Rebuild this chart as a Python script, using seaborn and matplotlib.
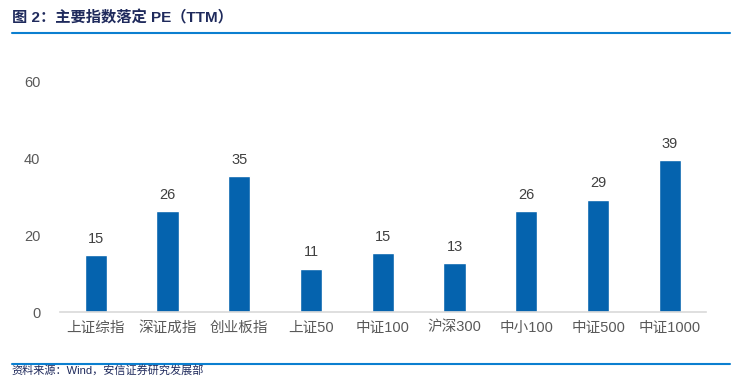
import seaborn as sns
import matplotlib.pyplot as plt
import pandas as pd

categories = ["上证综指", "深证成指", "创业板指", "上证50", "中证100", "沪深300", "中小100", "中证500", "中证1000"]
pe_ttm = [14.8, 26.2, 35.3, 11.2, 15.3, 12.7, 26.2, 29.1, 39.4]
y_ticks = [0, 20, 40, 60]

df = pd.DataFrame({"指数": categories, "PE": pe_ttm})

sns.set_style("white")
plt.rcParams['font.family'] = ['Liberation Sans', 'Noto Sans CJK SC', 'DejaVu Sans']

fig = plt.figure(figsize=(7.39, 3.77), dpi=100)
ax = fig.add_axes([0.081, 0.172, 0.874, 0.613])
sns.barplot(data=df, x="指数", y="PE", color="#0563AE", saturation=1, width=0.31, ax=ax)

for i, v in enumerate(pe_ttm):
    ax.text(i, v + 2.5, f"{v:.0f}", ha="center", va="bottom", fontsize=10.5, color="#404040")

ax.set_ylim(0, 60)
ax.set_yticks(y_ticks)
ax.set_xlim(-0.5, len(categories) - 0.5)
ax.set_xlabel("")
ax.set_ylabel("")
ax.tick_params(axis="y", length=0, labelsize=10.5, labelcolor="#595959", pad=14)
ax.tick_params(axis="x", length=0, labelsize=10.5, labelcolor="#595959", pad=6)
for s in ["top", "right", "left"]:
    ax.spines[s].set_visible(False)
ax.spines["bottom"].set_color("#D9D9D9")
ax.spines["bottom"].set_linewidth(1.2)

fig.text(0.016, 0.952, "图 2：主要指数落定 PE（TTM）", fontsize=11, fontweight="bold",
         color="#1F2A5C", va="center", ha="left")
fig.add_artist(plt.Line2D([0.016, 0.988], [0.913, 0.913], color="#0B7FD0", linewidth=1.5))
fig.add_artist(plt.Line2D([0.016, 0.988], [0.034, 0.034], color="#0B7FD0", linewidth=1.5))
fig.text(0.016, 0.003, "资料来源：Wind，安信证券研究发展部", fontsize=8, color="#1F2A5C",
         va="bottom", ha="left")

fig.savefig("out.png", dpi=100)
